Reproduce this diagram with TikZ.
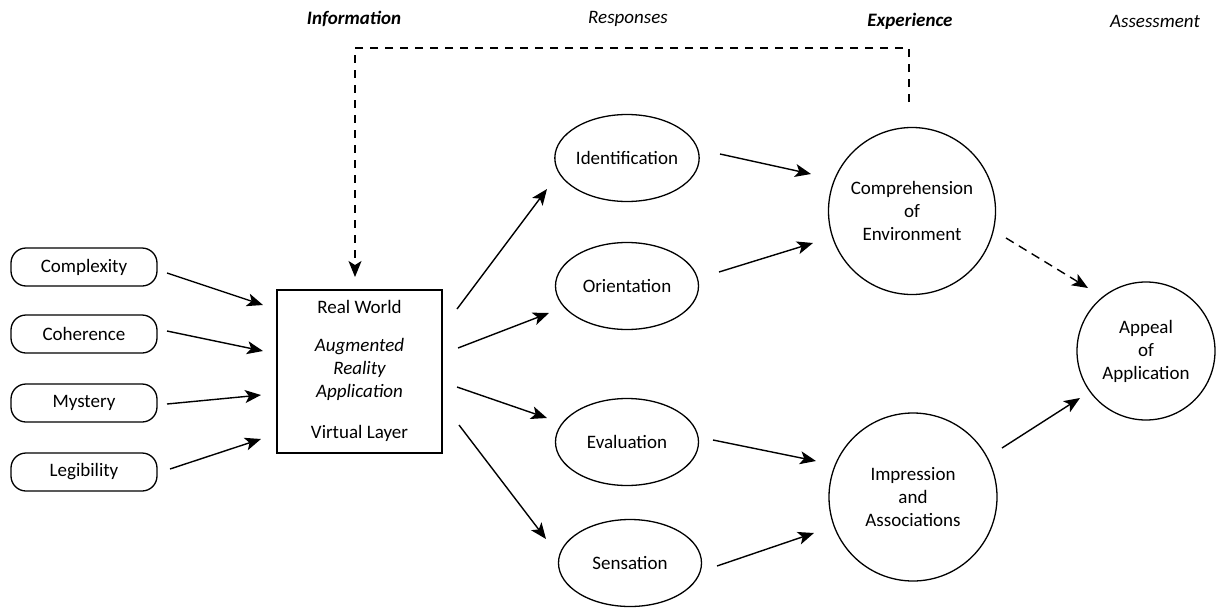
\documentclass[tikz,border=0pt]{standalone}
\usepackage{fontspec}
\setmainfont{Carlito}
\usetikzlibrary{arrows.meta,shapes.geometric,calc}
\begin{document}
\begin{tikzpicture}[x=1pt,y=-1pt,
  every node/.style={font=\fontsize{19}{23}\selectfont, align=center, inner sep=0pt},
  pill/.style={draw, line width=1.3pt, rounded corners=15pt, minimum width=146pt, minimum height=38pt},
  ell/.style={draw, line width=1.3pt, ellipse, minimum width=143pt, minimum height=87pt},
  circ/.style={draw, line width=1.3pt, circle},
  arr/.style={line width=1.4pt, -{Stealth[length=16pt,width=13pt,inset=4pt]}},
  darr/.style={arr, dash pattern=on 9pt off 6pt},
  head/.style={font=\fontsize{19}{23}\selectfont\itshape}
]
\useasboundingbox[fill=white] (0,0) rectangle (1216,608);

% headings
\node[head, font=\fontsize{19}{23}\selectfont\bfseries\itshape] (hinfo) at (354,19) {Information};
\node[head] (hresp) at (628,19) {Responses};
\node[head, font=\fontsize{19}{23}\selectfont\bfseries\itshape] (hexp) at (910,21) {Experience};
\node[head] (hass) at (1155,21) {Assessment};

% left inputs
\node[pill] (cx) at (84,267) {Complexity};
\node[pill] (ch) at (84,334) {Coherence};
\node[pill] (my) at (84,403) {Mystery};
\node[pill] (lg) at (84,472) {Legibility};

% central box
\node[draw, line width=1.3pt, minimum width=165pt, minimum height=163pt] (box) at (359.5,371.5) {};
\node (rw) at (359.5,307) {Real World};
\node (ar) at (359.5,369) {\itshape Augmented\\\itshape Reality\\\itshape Application};
\node (vl) at (359.5,433) {Virtual Layer};

% responses
\node[ell] (id) at (627,158) {Identification};
\node[ell] (or) at (627,286) {Orientation};
\node[ell] (ev) at (627,442) {Evaluation};
\node[ell] (se) at (630,563) {Sensation};

% experience
\node[circ, minimum size=167pt] (comp) at (912,211) {Comprehension\\of\\Environment};
\node[circ, minimum size=168pt] (imp) at (913,497) {Impression\\and\\Associations};

% assessment
\node[circ, minimum size=138pt] (app) at (1146,351) {Appeal\\of\\Application};

% inputs -> box
\draw[arr] ($(cx.center)+(83,6)$) -- ($(box.center)+(-96.5,-66.5)$);
\draw[arr] ($(ch.center)+(83,-3)$) -- ($(box.center)+(-96.5,-20.5)$);
\draw[arr] ($(my.center)+(83,1)$) -- ($(box.center)+(-98.5,23.5)$);
\draw[arr] ($(lg.center)+(86,-3)$) -- ($(box.center)+(-98.5,67.5)$);

% box -> responses
\draw[arr] ($(box.center)+(97.5,-62.5)$) -- ($(id.center)+(-80,31)$);
\draw[arr] ($(box.center)+(98.5,-23.5)$) -- ($(or.center)+(-78,27)$);
\draw[arr] ($(box.center)+(97.5,15.5)$) -- ($(ev.center)+(-80,-24)$);
\draw[arr] ($(box.center)+(99.5,53.5)$) -- ($(se.center)+(-84,-24)$);

% responses -> experience
\draw[arr] ($(id.center)+(93,-4)$) -- ($(comp.center)+(-101,-37)$);
\draw[arr] ($(or.center)+(92,-14)$) -- ($(comp.center)+(-99,32)$);
\draw[arr] ($(ev.center)+(86,-2)$) -- ($(imp.center)+(-97,-36)$);
\draw[arr] ($(se.center)+(87,3)$) -- ($(imp.center)+(-99,36)$);

% experience -> assessment
\draw[darr] ($(comp.center)+(94,27)$) -- ($(app.center)+(-58,-63)$);
\draw[arr] ($(imp.center)+(89,-49)$) -- ($(app.center)+(-66,47)$);

% feedback loop
\draw[darr, dash pattern=on 8pt off 7pt] ($(comp.center)+(-3,-109)$) -- ++(0,-54) -| ($(box.center)+(-4.5,-94.5)$);
\end{tikzpicture}
\end{document}
